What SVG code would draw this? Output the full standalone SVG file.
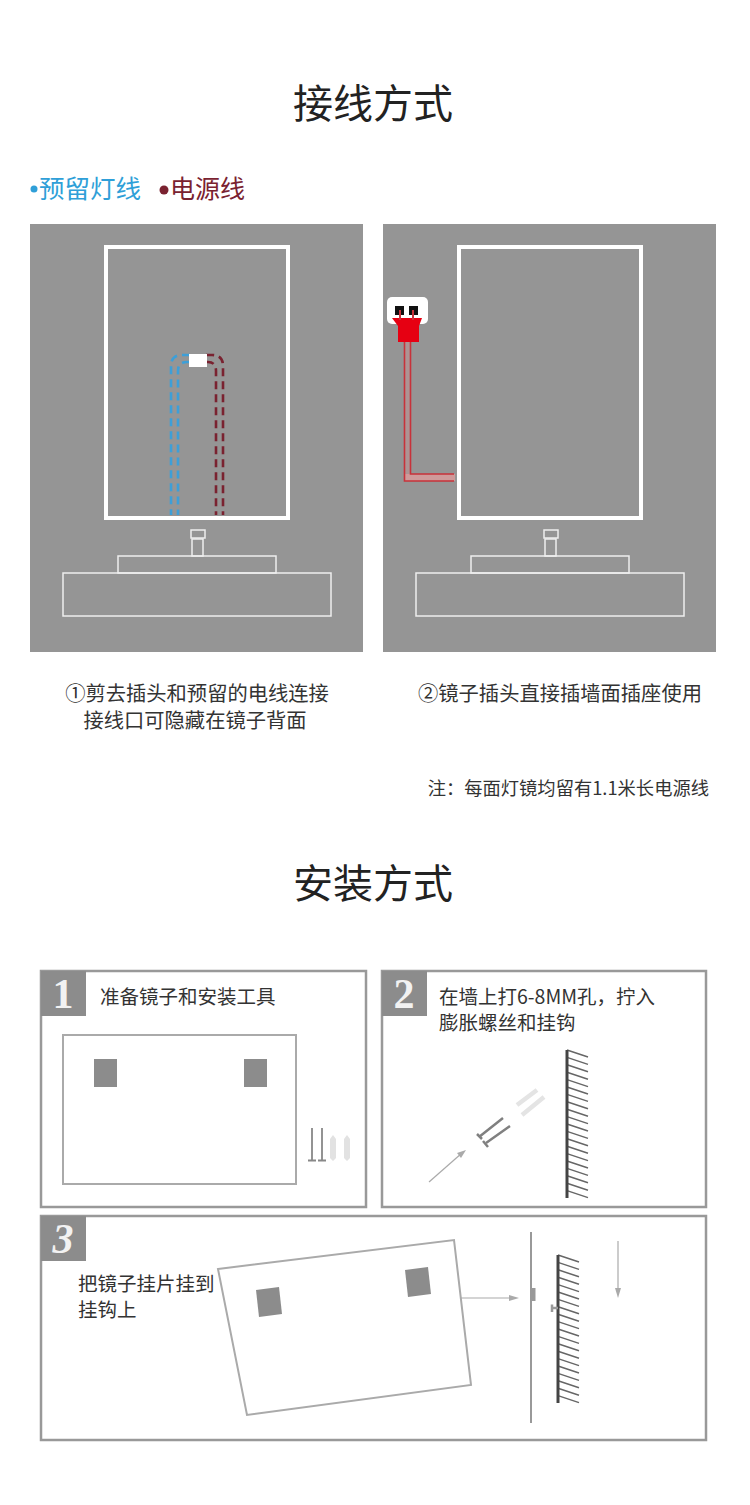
<svg xmlns="http://www.w3.org/2000/svg" width="750" height="1505" viewBox="0 0 750 1505">
<style>
text{font-family:"Noto Sans CJK SC","Liberation Sans",sans-serif;fill:#333}
.h{font-size:40px;text-anchor:middle;fill:#222;font-weight:400}
.t{font-size:19.500px}
.c{font-size:20.300px;text-anchor:middle}
.p{fill:#959595}
.m{fill:none;stroke:#fff;stroke-width:4}
.w{fill:none;stroke:#eee;stroke-width:1.500}
.b{fill:#fff;stroke:#999;stroke-width:2.500}
.n{font-family:"Liberation Serif",serif;font-size:42px;font-weight:700;fill:#f2f2f2;text-anchor:middle}
.g{fill:#8c8c8c}
.f{fill:none;stroke:#aaa;stroke-width:2}
.blue{fill:none;stroke:#3d9fd8;stroke-width:2.600;stroke-dasharray:8 5}
.red{fill:none;stroke:#7a2230;stroke-width:2.600;stroke-dasharray:8 5}
.hatch{stroke:#666;stroke-width:1.500}
.wall{stroke:#444;stroke-width:3}
.ar{stroke:#aaa;stroke-width:1.200;fill:none}
.ah{fill:#aaa}
</style>
<rect width="750" height="1505" fill="#fff"/>
<defs>
<g id="base"><rect class="w" x="63" y="573" width="268" height="43"/><rect class="w" x="118" y="556" width="158" height="17"/><rect class="w" x="191" y="530" width="14" height="8"/><rect class="w" x="192" y="539" width="11" height="17"/></g>
<g id="hat"><path class="hatch" d="M0 0l21 7M0 7.400l21 7M0 14.800l21 7M0 22.200l21 7M0 29.600l21 7M0 37l21 7M0 44.400l21 7M0 51.800l21 7M0 59.200l21 7M0 66.600l21 7M0 74l21 7M0 81.400l21 7M0 88.800l21 7M0 96.200l21 7M0 103.600l21 7M0 111l21 7M0 118.400l21 7M0 125.800l21 7M0 133.200l21 7M0 140.600l21 7"/></g>
</defs>
<text class="h" x="373" y="118">接线方式</text>
<g id="legend"><circle cx="34" cy="189" r="3.500" fill="#2f9fd8"/><text x="39" y="198" font-size="25.500" style="fill:#2f9fd8">预留灯线</text><circle cx="164" cy="190" r="4.500" fill="#7a2230"/><text x="170" y="198" font-size="25" style="fill:#7a2230">电源线</text></g>
<g id="panel-left">
<rect class="p" x="30" y="224" width="333" height="428"/>
<rect class="m" x="106" y="247" width="182" height="271"/>
<use href="#base"/>
<path class="blue" d="M190 355H182Q171 355 171 366V515"/><path class="blue" d="M190 362H187Q178 362 178 371V515"/>
<path class="red" d="M206 355H212Q223 355 223 366V515"/><path class="red" d="M206 362H208Q216 362 216 371V515"/>
<rect x="189" y="354" width="18" height="13" fill="#fff"/>
</g>
<g id="panel-right">
<rect class="p" x="383" y="224" width="333" height="428"/>
<rect class="m" x="459" y="247" width="182" height="271"/>
<use href="#base" x="353"/>
<rect x="387" y="297" width="41" height="27" rx="5" fill="#fff"/>
<rect x="395" y="306" width="9" height="9" fill="#111"/><rect x="409" y="306" width="9" height="9" fill="#111"/>
<path d="M404 481V342H411V481Z" fill="#ad9494"/><path d="M404 481V474H455V481Z" fill="#cf9a9a"/>
<path d="M404.500 342V481H454M410.500 342V474H454" fill="none" stroke="#c8323a" stroke-width="1.600"/>
<path d="M392 318H422L419 326V342H398V326Z" fill="#e60012"/>
<path d="M400 310V320M413 310V320" stroke="#c8323a" stroke-width="2"/>
</g>
<text class="c" x="197" y="701">①剪去插头和预留的电线连接</text>
<text class="c" x="195" y="728">接线口可隐藏在镜子背面</text>
<text class="c" x="560" y="701">②镜子插头直接插墙面插座使用</text>
<text x="709" y="795" font-size="18.300" text-anchor="end">注：每面灯镜均留有1.1米长电源线</text>
<text class="h" x="373" y="898">安装方式</text>
<g id="step-1">
<rect class="b" x="41" y="971" width="325" height="236"/>
<rect class="g" x="41" y="971" width="45" height="45"/><text class="n" x="63" y="1008">1</text>
<text class="t" x="100" y="1004">准备镜子和安装工具</text>
<rect class="f" x="63" y="1035" width="233" height="149"/>
<rect class="g" x="94" y="1059" width="23" height="28"/><rect class="g" x="244" y="1059" width="23" height="28"/>
<path d="M312 1128V1160M308 1160.500H316M322 1128V1160M318 1160.500H326" stroke="#888" stroke-width="1.800" fill="none"/>
<path d="M330 1139l3-4 3 4v19l-3 3-3-3zM344 1139l3-4 3 4v19l-3 3-3-3z" fill="#e2e2e2"/>
</g>
<g id="step-2">
<rect class="b" x="382" y="971" width="324" height="236"/>
<rect class="g" x="382" y="971" width="45" height="45"/><text class="n" x="404" y="1008">2</text>
<text class="t" x="439" y="1004" font-size="20">在墙上打6-8MM孔，拧入</text>
<text class="t" x="439" y="1030">膨胀螺丝和挂钩</text>
<use href="#hat" x="567" y="1050"/>
<path class="wall" d="M567 1050V1198"/>
<path d="M479 1137L503 1118M486 1143L510 1126" stroke="#808080" stroke-width="2.500"/>
<path d="M477 1134L482 1139M483 1141L488 1147" stroke="#808080" stroke-width="2.500"/>
<path d="M517 1105L537 1090M522 1115L544 1097" stroke="#e4e4e4" stroke-width="4.500"/>
<path class="ar" d="M429 1182L462 1153"/><path class="ah" d="M466 1150L457 1153L461 1158Z"/>
</g>
<g id="step-3">
<rect class="b" x="41" y="1216" width="665" height="224"/>
<rect class="g" x="41" y="1216" width="45" height="45"/><text class="n" x="63" y="1253" font-style="italic">3</text>
<text class="t" x="78" y="1291">把镜子挂片挂到</text>
<text class="t" x="78" y="1317">挂钩上</text>
<path class="f" d="M218 1269L454 1240L471 1385L247 1415Z"/>
<path class="g" d="M256 1290L279 1287L282 1314L259 1317Z"/><path class="g" d="M405 1270L428 1267L431 1294L408 1297Z"/>
<path class="ar" d="M461 1298H510"/><path class="ah" d="M519 1298L509 1295V1301Z"/>
<path d="M531 1232V1423" stroke="#999" stroke-width="2"/><rect x="531" y="1288" width="4.500" height="13" fill="#999"/>
<use href="#hat" x="558" y="1255"/>
<path class="wall" d="M558 1255V1403"/>
<path d="M552 1308H558M552 1304.500V1312" stroke="#999" stroke-width="2.500"/>
<path class="ar" d="M618 1241V1290"/><path class="ah" d="M618 1298L615 1288H621Z"/>
</g>
</svg>
